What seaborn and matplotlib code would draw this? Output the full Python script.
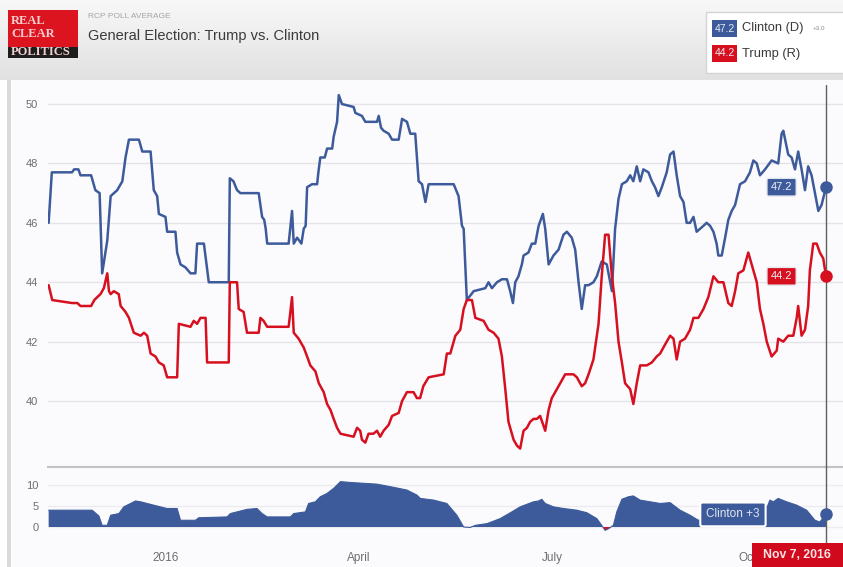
import numpy as np
import pandas as pd
import matplotlib
matplotlib.use('Agg')
import matplotlib.pyplot as plt
from matplotlib.patches import Rectangle
import seaborn as sns

# RCP poll average, Nov 7 2015 -> Nov 7 2016 (x = days since start)
START = pd.Timestamp('2015-11-07')

clinton_day = [0, 1.5, 11, 12, 14, 15, 20, 22, 24, 25.2, 27.6, 29.2, 32.3, 34.7, 36.2, 37.8,
               42.5, 44.1, 48.0, 49.5, 51.1, 51.9, 55.0, 55.8, 59.7, 60.5, 62.1, 64.4, 66.8,
               69.1, 69.9, 73.1, 75.4, 84.8, 85.3, 87.0, 88.7, 90.3, 98.9, 100.5, 101.5, 102.2,
               102.9, 113.0, 114.6, 115.4, 117.0, 119.0, 120.1, 121.0, 121.7, 124.0, 126.4,
               127.0, 127.9, 130.0, 131.1, 133.5, 134.2, 135.8, 136.6, 138.1, 143.6, 144.4,
               147.5, 149.1, 154.6, 155.4, 156.5, 157.7, 160.1, 161.7, 164.8, 166.4, 168.7,
               170.3, 172.6, 173.4, 174.2, 175.8, 177.4, 178.9, 184.4, 190.7, 193.0, 194.6,
               195.4, 196.9, 200.1, 205.6, 207.1, 208.7, 211.1, 213.4, 215.8, 217.3, 218.6,
               219.7, 221.2, 222.8, 223.6, 225.9, 227.5, 229.1, 230.7, 232.7, 233.8, 235.4,
               237.7, 240.1, 242.4, 244.0, 246.3, 247.9, 249.5, 251.0, 252.6, 254.2, 256.5,
               258.1, 260.4, 262.8, 265.2, 266.7, 268.3, 269.9, 272.2, 273.8, 275.3, 276.9,
               278.5, 280.0, 282.4, 284.0, 285.5, 287.1, 288.7, 291.0, 292.6, 294.2, 295.7,
               297.3, 298.9, 300.4, 302.0, 303.6, 305.1, 306.7, 308.3, 309.8, 311.4, 313.0,
               314.5, 315.3, 316.9, 318.5, 320.0, 321.6, 323.2, 325.5, 327.9, 330.2, 331.8,
               333.4, 334.9, 337.3, 340.4, 343.5, 345.1, 345.9, 348.2, 349.8, 351.4, 352.9,
               354.5, 356.1, 357.6, 359.2, 360.8, 362.4, 363.9, 366]
clinton_pct = [46.0, 47.7, 47.7, 47.8, 47.8, 47.6, 47.6, 47.1, 47.0, 44.3, 45.4, 46.9, 47.1, 47.4, 48.2, 48.8,
               48.8, 48.4, 48.4, 47.1, 46.9, 46.3, 46.2, 45.7, 45.7, 45.0, 44.6, 44.5, 44.3,
               44.3, 45.3, 45.3, 44.0, 44.0, 47.5, 47.4, 47.1, 47.0, 47.0, 46.2, 46.1, 45.8,
               45.3, 45.3, 46.4, 45.3, 45.5, 45.3, 45.8, 45.9, 47.2, 47.3, 47.3,
               47.7, 48.2, 48.2, 48.5, 48.5, 48.9, 49.4, 50.3, 50.0, 49.9, 49.7,
               49.6, 49.4, 49.4, 49.6, 49.2, 49.1, 49.0, 48.8, 48.8, 49.5, 49.4,
               49.0, 49.0, 48.2, 47.4, 47.3, 46.7, 47.3, 47.3, 47.3, 46.9, 45.9,
               45.8, 43.4, 43.7, 43.8, 44.0, 43.8, 44.0, 44.1, 44.1, 43.7, 43.3,
               44.0, 44.2, 44.6, 44.9, 45.0, 45.3, 45.3, 45.9, 46.3, 45.8, 44.6,
               44.9, 45.1, 45.6, 45.7, 45.5, 45.1, 44.0, 43.1, 43.9, 43.9, 44.0,
               44.2, 44.7, 44.6, 43.7, 45.8, 46.8, 47.3, 47.4, 47.6, 47.4, 47.9,
               47.4, 47.8, 47.7, 47.4, 47.2, 46.9, 47.2, 47.7, 48.3, 48.4, 47.6,
               46.9, 46.7, 46.0, 46.0, 46.2, 45.7, 45.8, 45.9, 46.0, 45.9, 45.7,
               45.3, 44.9, 44.9, 45.5, 46.1, 46.4, 46.6, 47.3, 47.4, 47.7, 48.1,
               48.0, 47.6, 47.8, 48.1, 48.0, 49.0, 49.1, 48.3, 48.2, 47.8, 48.4,
               47.8, 47.1, 47.9, 47.6, 47.0, 46.4, 46.6, 47.2]

trump_day = [0, 1.7, 11, 13.5, 15, 20, 21.5, 22.9, 24.4, 26.0, 27.6, 28.4, 29.2, 30.7, 33.0, 33.9,
             36.2, 37.8, 40.1, 43.3, 44.9, 46.4, 48.0, 50.3, 51.9, 54.2, 55.8, 60.5, 61.3,
             66.8, 68.3, 69.9, 71.5, 73.9, 74.6, 84.8, 85.3, 88.7, 89.5, 91.8, 93.4, 98.9,
             99.7, 101.2, 102.9, 113.0, 114.6, 115.4, 117.7, 120.1, 121.7, 123.2, 125.6,
             127.2, 129.5, 131.1, 132.7, 134.2, 135.8, 137.4, 143.6, 145.2, 146.7, 147.5,
             149.1, 150.6, 152.9, 154.6, 156.1, 157.7, 160.1, 161.7, 164.8, 166.4, 168.7,
             171.8, 173.4, 174.9, 176.4, 178.9, 186.0, 187.5, 189.1, 191.5, 193.8, 195.4,
             196.9, 199.3, 200.9, 204.8, 207.1, 209.5, 211.8, 213.4, 215.0, 216.5, 218.9,
             220.5, 222.0, 223.6, 225.2, 226.7, 228.3, 229.9, 231.4, 233.8, 235.4, 236.9,
             238.5, 241.6, 243.2, 247.1, 248.7, 251.0, 252.6, 254.2, 256.5, 258.9, 260.4,
             262.0, 263.6, 265.2, 266.7, 268.3, 269.9, 271.4, 273.8, 275.3, 276.9, 278.5,
             281.6, 284.0, 286.3, 287.9, 290.2, 292.6, 294.2, 295.7, 297.3, 299.6, 302.0,
             303.6, 305.9, 308.3, 310.6, 313.0, 315.3, 317.7, 320.0, 321.6, 323.2, 324.7,
             327.1, 329.4, 331.0, 333.4, 334.9, 336.5, 338.1, 340.4, 342.8, 343.5, 345.9,
             348.2, 350.6, 352.2, 352.9, 354.5, 356.1, 357.6, 358.4, 360.0, 361.6, 363.1,
             364.7, 366]
trump_pct = [43.9, 43.4, 43.3, 43.3, 43.2, 43.2, 43.4, 43.5, 43.6, 43.8, 44.3, 43.7, 43.6, 43.7, 43.6, 43.2,
             43.0, 42.8, 42.3, 42.2, 42.3, 42.2, 41.6, 41.5, 41.3, 41.2, 40.8, 40.8, 42.6,
             42.5, 42.7, 42.6, 42.8, 42.8, 41.3, 41.3, 44.0, 44.0, 43.1, 43.0, 42.3, 42.3,
             42.8, 42.7, 42.5, 42.5, 43.5, 42.3, 42.1, 41.8, 41.5, 41.2, 41.0,
             40.6, 40.3, 39.9, 39.7, 39.4, 39.1, 38.9, 38.8, 39.1, 39.0, 38.7,
             38.6, 38.9, 38.9, 39.0, 38.8, 39.0, 39.2, 39.5, 39.6, 40.0, 40.3,
             40.3, 40.1, 40.1, 40.5, 40.8, 40.9, 41.6, 41.6, 42.2, 42.4, 43.1,
             43.4, 43.4, 42.8, 42.7, 42.4, 42.3, 42.1, 41.5, 40.4, 39.3, 38.7,
             38.5, 38.4, 39.0, 39.1, 39.3, 39.4, 39.4, 39.5, 39.0, 39.7, 40.1,
             40.3, 40.7, 40.9, 40.9, 40.8, 40.5, 40.6, 40.9, 41.4, 42.6, 44.2,
             45.6, 45.6, 44.2, 43.3, 42.0, 41.3, 40.6, 40.4, 39.9, 40.6, 41.2,
             41.2, 41.3, 41.5, 41.6, 41.9, 42.2, 42.1, 41.4, 42.0, 42.1, 42.4,
             42.8, 42.8, 43.1, 43.5, 44.2, 44.0, 44.0, 43.3, 43.2, 43.7, 44.3,
             44.4, 45.0, 44.6, 44.0, 43.1, 42.6, 42.0, 41.5, 41.7, 42.1, 42.0,
             42.2, 42.2, 42.8, 43.2, 42.2, 42.4, 43.2, 44.4, 45.3, 45.3, 45.0,
             44.8, 44.2]

# Clinton lead (bottom panel)
spread_day = [0, 20.5, 23.7, 25.2, 27.6, 29.2, 33.1, 35.4, 38.6, 40.9, 43.3, 47.9, 52.6, 55.8,
              60.5, 62.1, 69.1, 70.7, 84.0, 85.6, 88.7, 93.4, 98.1, 100.5, 102.9, 113.8,
              115.4, 120.9, 122.4, 125.6, 127.9, 131.1, 134.2, 137.4, 142.1, 148.4, 154.6,
              160.9, 168.7, 173.4, 175.0, 181.3, 187.5, 192.2, 195.4, 198.5, 200.9, 206.4,
              212.6, 218.1, 222.0, 228.3, 230.7, 232.2, 233.8, 237.7, 242.4, 248.7, 253.4,
              258.1, 260.4, 262.0, 263.6, 265.9, 267.5, 269.9, 273.0, 275.3, 278.5, 283.2,
              287.9, 292.6, 297.3, 302.0, 305.9, 312.0, 320.0, 328.0, 334.0, 338.5, 339.6,
              341.2, 343.5, 347.5, 352.2, 356.9, 360.8, 363.1, 366]
spread_pts = [4.0, 4.0, 2.6, 0.4, 0.4, 2.8, 3.2, 4.8, 5.6, 6.2, 6.0, 5.4, 4.8, 4.4,
              4.4, 1.6, 1.6, 2.2, 2.4, 3.2, 3.6, 4.2, 4.4, 3.2, 2.4, 2.4,
              3.2, 3.6, 5.6, 6.0, 7.2, 8.0, 9.2, 10.8, 10.6, 10.4, 10.2,
              9.6, 8.8, 7.6, 6.8, 6.4, 5.6, 2.8, 0.0, -0.1, 0.4, 0.8,
              2.0, 3.6, 4.8, 6.0, 6.2, 6.6, 5.6, 4.8, 4.4, 4.0, 3.4,
              2.0, 0.4, -0.8, -0.4, 0.4, 3.6, 6.6, 7.2, 7.4, 6.4, 6.0,
              5.6, 5.8, 4.0, 2.8, 1.6, 2.2, 2.5, 3.4, 4.0, 5.0, 6.4,
              6.0, 6.8, 6.0, 5.2, 4.0, 1.6, 1.2, 3.0]

main_ticks = [40, 42, 44, 46, 48, 50]
spread_ticks = [0, 5, 10]
month_ticks = ['2016-01-01', '2016-04-01', '2016-07-01', '2016-10-01']
month_labels = ['2016', 'April', 'July', 'Oct']

BLUE = '#3d5b9b'
RED = '#d7101f'
W, H = 843, 567


def fx(px):
    return px / W


def fy(py):
    return 1 - py / H


def to_dates(days):
    return START + pd.to_timedelta(np.array(days, dtype=float), unit='D')


sns.set_style('white')
plt.rcParams['font.family'] = ['Liberation Sans', 'DejaVu Sans']

fig = plt.figure(figsize=(W / 100, H / 100), dpi=100)
fig.patch.set_facecolor('white')

# page furniture
fig.add_artist(Rectangle((fx(12), 0), 1 - fx(12), fy(80), transform=fig.transFigure,
                         fc='#fbfbfe', ec='none', zorder=-10))
fig.add_artist(Rectangle((fx(7), 0), fx(4), fy(80), transform=fig.transFigure,
                         fc='#dadada', ec='none', zorder=-9))
ax_head = fig.add_axes([0, fy(80), 1, 80 / H], zorder=-8)
grad = np.linspace(0, 1, 100).reshape(-1, 1)
ax_head.imshow(grad, aspect='auto', cmap=sns.blend_palette(['#f8f8f8', '#e1e1e1'], as_cmap=True),
               extent=[0, 1, 0, 1])
ax_head.axis('off')

# logo
fig.add_artist(Rectangle((fx(8), fy(47)), fx(70), 37 / H, transform=fig.transFigure,
                         fc='#dc1420', ec='none', zorder=2))
fig.add_artist(Rectangle((fx(8), fy(58)), fx(70), 11 / H, transform=fig.transFigure,
                         fc='#1d1d1d', ec='none', zorder=2))
for txt, yy in [('REAL', 21), ('CLEAR', 34), ('POLITICS', 52)]:
    fig.text(fx(11), fy(yy), txt, family='Liberation Serif', fontsize=9, fontweight='bold',
             color='#f4cfd0', va='center', ha='left')

fig.text(fx(88), fy(17), 'RCP POLL AVERAGE', fontsize=6, color='#a5a5a5', va='center')
fig.text(fx(88), fy(36), 'General Election: Trump vs. Clinton', fontsize=10.5, color='#3a3a3a',
         va='center')

# header legend
fig.add_artist(Rectangle((fx(706), fy(73)), fx(140), 61 / H, transform=fig.transFigure,
                         fc='white', ec='#d4d4d4', lw=1, zorder=2))
for yy, col, val, name in [(28.5, BLUE, '47.2', 'Clinton (D)'), (53.5, RED, '44.2', 'Trump (R)')]:
    fig.add_artist(Rectangle((fx(712), fy(yy + 8.5)), fx(25), 17 / H, transform=fig.transFigure,
                             fc=col, ec='none', zorder=3))
    fig.text(fx(724.5), fy(yy), val, fontsize=7.5, color='#e8ecf5', ha='center', va='center')
    fig.text(fx(742), fy(yy), name, fontsize=9.3, color='#3a3a3a', va='center')
fig.text(fx(813), fy(29), '+3.0', fontsize=4.5, color='#888888', va='center')

x0 = START - pd.Timedelta(days=0.3)
x1 = START + pd.Timedelta(days=374)
end = to_dates([366])[0]

# main panel
ax = fig.add_axes([fx(48), fy(467), fx(843) - fx(48), (467 - 85) / H])
ax.set_facecolor('none')
sns.lineplot(x=to_dates(clinton_day), y=clinton_pct, ax=ax, color=BLUE, lw=1.8, estimator=None)
sns.lineplot(x=to_dates(trump_day), y=trump_pct, ax=ax, color=RED, lw=1.8, estimator=None)
ax.plot([end], [clinton_pct[-1]], 'o', ms=8, color=BLUE, zorder=5)
ax.plot([end], [trump_pct[-1]], 'o', ms=8, color=RED, zorder=5)
ax.axvline(end, color='#5f5f5f', lw=1, zorder=4)
for val, col in [(clinton_pct[-1], BLUE), (trump_pct[-1], RED)]:
    ax.annotate(f'{val:.1f}', xy=(end, val), xytext=(-32, 0), textcoords='offset points',
                ha='center', va='center', fontsize=8, color='#eef1f8', zorder=6,
                bbox=dict(boxstyle='round,pad=0.35,rounding_size=0.15', fc=col, ec='#e6e9f0', lw=1))
ax.set_xlim(x0, x1)
ax.set_ylim(37.78, 50.64)
ax.set_yticks(main_ticks)
ax.set_yticklabels([str(t) for t in main_ticks])
ax.set_xticks([])
ax.yaxis.grid(True, color='#e4e4e8', lw=1)
ax.tick_params(axis='y', length=0, pad=7, labelsize=8, labelcolor='#6e6e6e')
for side in ['top', 'left', 'right']:
    ax.spines[side].set_visible(False)
ax.spines['bottom'].set_color('#c2c2c6')
ax.spines['bottom'].set_linewidth(1.5)
ax.set_xlabel('')
ax.set_ylabel('')

# spread panel
ax2 = fig.add_axes([fx(48), fy(538), fx(843) - fx(48), (538 - 470) / H])
ax2.set_facecolor('none')
sdates = to_dates(spread_day)
svals = np.array(spread_pts)
ax2.fill_between(sdates, 0, svals, where=svals >= 0, interpolate=True, color=BLUE, lw=0)
ax2.fill_between(sdates, 0, svals, where=svals <= 0, interpolate=True, color=RED, lw=0)
sns.lineplot(x=sdates, y=svals, ax=ax2, color=BLUE, lw=0.8, estimator=None)
ax2.plot([end], [spread_pts[-1]], 'o', ms=8, color=BLUE, zorder=5)
ax2.axvline(end, ymin=-0.1, ymax=1.06, color='#5f5f5f', lw=1, zorder=4, clip_on=False)
ax2.annotate(f'Clinton +{spread_pts[-1]:.0f}', xy=(end, spread_pts[-1]), xytext=(-67, 0),
             textcoords='offset points', ha='center', va='center', fontsize=8.5,
             color='#dfe5f2', zorder=6,
             bbox=dict(boxstyle='round,pad=0.5,rounding_size=0.15', fc=BLUE, ec='white', lw=1.5))
ax2.set_xlim(x0, x1)
ax2.set_ylim(-2.62, 13.57)
ax2.set_yticks(spread_ticks)
ax2.set_yticklabels([str(t) for t in spread_ticks])
ax2.set_xticks(pd.to_datetime(month_ticks))
ax2.set_xticklabels(month_labels)
ax2.yaxis.grid(True, color='#ececf0', lw=1)
ax2.tick_params(axis='y', length=0, pad=7, labelsize=8, labelcolor='#6e6e6e')
ax2.tick_params(axis='x', length=0, pad=10, labelsize=8.5, labelcolor='#6e6e6e')
sns.despine(ax=ax2, left=True, bottom=True)
ax2.set_xlabel('')
ax2.set_ylabel('')

# current date flag
fig.add_artist(Rectangle((fx(752), 0), fx(91), fy(543), transform=fig.transFigure,
                         fc='#d0091c', ec='none', zorder=5))
fig.text(fx(797), fy(555), 'Nov 7, 2016', fontsize=8.8, fontweight='bold', color='#fbe4e4',
         ha='center', va='center', zorder=6)

fig.savefig('out.png', dpi=100)
